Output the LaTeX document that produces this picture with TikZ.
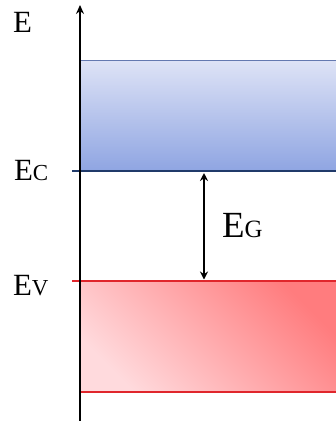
\documentclass[tikz,border=0pt]{standalone}
\usepackage{fontspec}
\setmainfont{Liberation Serif}
\usetikzlibrary{arrows.meta}
\definecolor{bluetop}{HTML}{DEE3F6}
\definecolor{bluebot}{HTML}{8FA5E2}
\definecolor{blueedge}{HTML}{6479B0}
\definecolor{navy}{HTML}{203A6A}
\definecolor{redhi}{HTML}{FF7C7E}
\definecolor{redlo}{HTML}{FFDADD}
\definecolor{redline}{HTML}{E0262C}
\newcommand{\lvl}[3]{#1{\fontsize{#3}{#3}\selectfont #2}}
\tikzset{
  lab/.style={anchor=base west, inner sep=0pt, outer sep=0pt, text=black},
  axisline/.style={line width=3pt, -{Stealth[length=9pt,width=8pt]}},
  gaparrow/.style={line width=2.2pt, {Stealth[length=8pt,width=8pt]}-{Stealth[length=8pt,width=8pt]}}
}
\begin{document}
\begin{tikzpicture}[x=1bp,y=-1bp]
\useasboundingbox (0,0) rectangle (336,421);
% bands
\shade[top color=bluetop, bottom color=bluebot] (80,60) rectangle (336,171);
\shade[top color=redhi, bottom color=redlo, shading angle=-45] (80,281) rectangle (336,392);
% band edges
\coordinate (cb0) at (80,60); \coordinate (cb1) at (336,60);
\coordinate (ec0) at (72,171); \coordinate (ec1) at (336,171);
\coordinate (ev0) at (72,281); \coordinate (ev1) at (336,281);
\coordinate (vb0) at (80,392); \coordinate (vb1) at (336,392);
\draw[blueedge, line width=1pt] (cb0) -- (cb1);
\draw[navy, line width=3pt] (ec0) -- (ec1);
\draw[redline, line width=2.2pt] (ev0) -- (ev1);
\draw[redline, line width=1.3pt] (vb0) -- (vb1);
% axis
\coordinate (ax0) at (80,421); \coordinate (ax1) at (80,5);
\draw[axisline] (ax0) -- (ax1);
% gap arrow
\coordinate (g0) at (204,173) ; \coordinate (g1) at (204,279.5);
\draw[gaparrow] (g0) -- (g1);
% labels
\node[lab, font=\fontsize{31}{31}\selectfont] (E) at (13,32) {E};
\node[lab, font=\fontsize{31}{31}\selectfont] (Ec) at (14,180) {\lvl{E}{C}{23}};
\node[lab, font=\fontsize{31}{31}\selectfont] (Ev) at (13,295) {\lvl{E}{V}{23}};
\node[lab, font=\fontsize{37}{37}\selectfont] (Eg) at (222,237.5) {\lvl{E}{G}{25}};
\end{tikzpicture}
\end{document}
